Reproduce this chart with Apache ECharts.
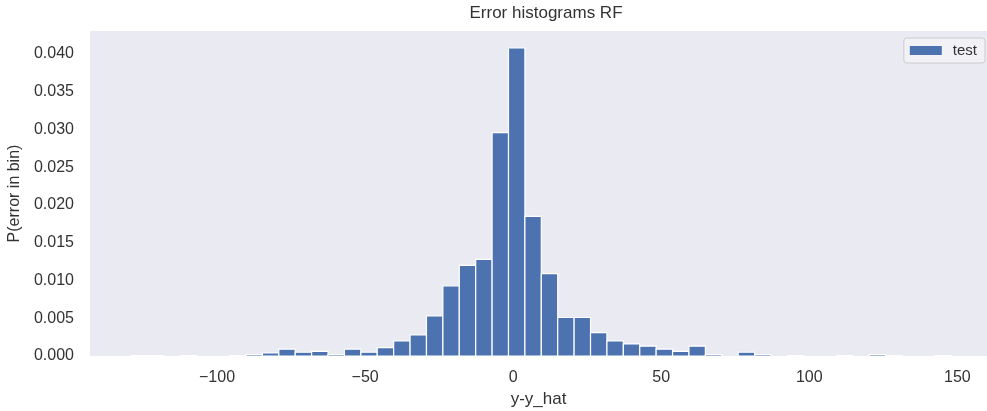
<!DOCTYPE html>
<html>
<head>
<meta charset="utf-8">
<script src="https://cdn.jsdelivr.net/npm/echarts@6/dist/echarts.min.js"></script>
<style>
  html, body { margin: 0; padding: 0; background: #ffffff; }
  #chart { width: 987px; height: 411px; }
</style>
</head>
<body>
<div id="chart"></div>
<script>
// Histogram parameters (50 bins)
const binStart = -129.0;
const binWidth = 5.54;
// Probability per bin
const binValues = [
  0.00005, 0.00005, 0, 0.00005, 0, 0, 0.00005, 0.0002, 0.0004, 0.0009,
  0.0005, 0.0006, 0.0002, 0.0009, 0.0005, 0.0011, 0.0020, 0.0028, 0.0053, 0.0093,
  0.0120, 0.0128, 0.0296, 0.0408, 0.0185, 0.0109, 0.0051, 0.0051, 0.0031, 0.0020,
  0.0016, 0.0013, 0.0009, 0.0006, 0.0013, 0.0002, 0, 0.0005, 0.0002, 0,
  0.00005, 0, 0, 0.00005, 0, 0.0002, 0.00005, 0, 0, 0.00005
];
const xTickValues = [-100, -50, 0, 50, 100, 150];
const yTickValues = [0, 0.005, 0.01, 0.015, 0.02, 0.025, 0.03, 0.035, 0.04];
const seriesName = 'test';
const titleText = 'Error histograms RF';
const xLabel = 'y-y_hat';
const yLabel = 'P(error in bin)';

const data = binValues.map((v, k) => [binStart + k * binWidth, binStart + (k + 1) * binWidth, v]);

const FONT = '"Liberation Sans", Arial, Helvetica, sans-serif';
const TXT = '#333333';
const BAR = '#4C72B0';

const chart = echarts.init(document.getElementById('chart'), null, { renderer: 'canvas' });
chart.setOption({
  animation: false,
  backgroundColor: '#ffffff',
  textStyle: { fontFamily: FONT },
  title: {
    text: titleText,
    left: 541,
    top: 0,
    textAlign: 'center',
    textStyle: { fontFamily: FONT, fontSize: 17, fontWeight: 'normal', color: TXT }
  },
  legend: {
    data: [{ name: seriesName, icon: 'rect', itemStyle: { color: BAR, borderWidth: 0 } }],
    right: 2,
    top: 38,
    orient: 'vertical',
    itemWidth: 32,
    itemHeight: 9,
    padding: [5, 8, 5, 6],
    borderColor: '#cccccc',
    borderWidth: 1,
    borderRadius: 3,
    backgroundColor: 'rgba(255,255,255,0.35)',
    textStyle: { fontFamily: FONT, fontSize: 15, color: TXT, padding: [0, 0, 0, 6] },
    selectedMode: false
  },
  grid: {
    left: 90, right: 0, top: 31, bottom: 55,
    outerBoundsMode: 'none',
    containLabel: false,
    show: true, backgroundColor: '#EAEAF2', borderWidth: 0
  },
  xAxis: {
    type: 'value',
    min: -142.9,
    max: 160.0,
    name: xLabel,
    nameLocation: 'middle',
    nameGap: 32,
    nameTextStyle: { fontFamily: FONT, fontSize: 17, color: TXT },
    axisLine: { show: false },
    axisTick: { show: false },
    splitLine: { show: false },
    axisLabel: {
      customValues: xTickValues,
      margin: 14,
      fontFamily: FONT, fontSize: 16, color: TXT,
      formatter: v => (v < 0 ? '\u2212' + Math.abs(v) : String(v))
    }
  },
  yAxis: {
    type: 'value',
    min: 0,
    max: 0.04305,
    name: yLabel,
    nameLocation: 'middle',
    nameGap: 63,
    nameRotate: 90,
    nameTextStyle: { fontFamily: FONT, fontSize: 16, color: TXT },
    axisLine: { show: false },
    axisTick: { show: false },
    splitLine: { show: false },
    axisLabel: {
      customValues: yTickValues,
      margin: 16,
      fontFamily: FONT, fontSize: 16, color: TXT,
      formatter: v => v.toFixed(3)
    }
  },
  series: [{
    name: seriesName,
    type: 'custom',
    itemStyle: { color: BAR },
    encode: { x: [0, 1], y: 2 },
    data: data,
    renderItem: function (params, api) {
      const x0 = api.value(0), x1 = api.value(1), y = api.value(2);
      if (!y) return null;
      const p0 = api.coord([x0, y]);
      const p1 = api.coord([x1, 0]);
      return {
        type: 'rect',
        shape: { x: p0[0], y: p0[1], width: p1[0] - p0[0], height: p1[1] - p0[1] },
        style: { fill: BAR, stroke: '#ffffff', lineWidth: 1.2 }
      };
    }
  }]
});
</script>
</body>
</html>
